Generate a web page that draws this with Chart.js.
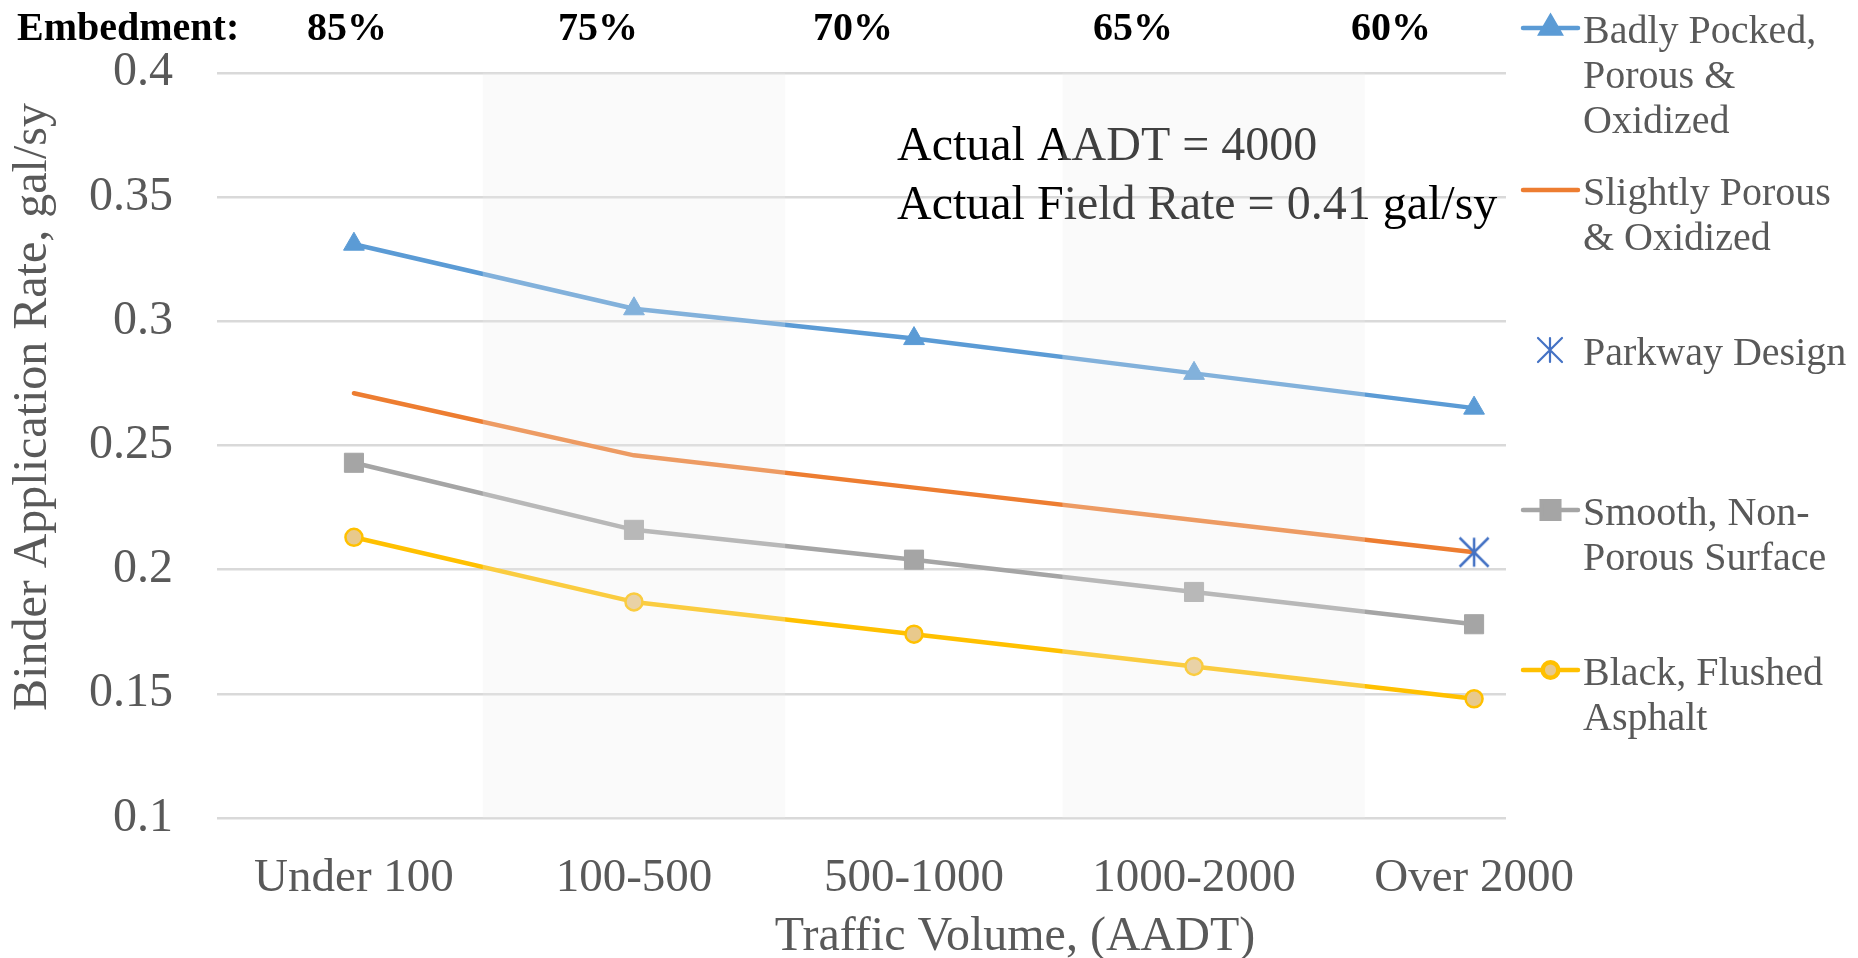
<!DOCTYPE html>
<html>
<head>
<meta charset="utf-8">
<script src="https://cdn.jsdelivr.net/npm/chart.js@4.4.1/dist/chart.umd.min.js"></script>
<style>
  html, body { margin: 0; padding: 0; background: #fff; }
</style>
</head>
<body>
<canvas id="myChart" width="1858" height="958"></canvas>
<script>
const categories = ["Under 100", "100-500", "500-1000", "1000-2000", "Over 2000"];
const embedment = ["85%", "75%", "70%", "65%", "60%"];
const badlyPocked = [0.331, 0.305, 0.293, 0.279, 0.265];
const slightlyPorous = [0.271, 0.246, 0.233, 0.220, 0.207];
const parkwayDesign = [null, null, null, null, 0.207];
const smoothNonPorous = [0.243, 0.216, 0.204, 0.191, 0.178];
const blackFlushed = [0.213, 0.187, 0.174, 0.161, 0.148];
const yTicks = [0.1, 0.15, 0.2, 0.25, 0.3, 0.35, 0.4];
const actualAADT = 4000;
const actualFieldRate = 0.41;

const FONT = '"Liberation Serif", "Times New Roman", serif';
const GREY_TEXT = "#595959";

// light columns behind the 75% and 65% embedment groups (x in category units)
const shadedBands = [[0.46, 1.54], [2.53, 3.61]];
const embedmentX = [347, 598, 853, 1133, 1391];

function toPoints(values) {
  return values.map((v, i) => ({ x: i, y: v })).filter(p => p.y !== null);
}

function drawAsterisk(ctx, cx, cy, half, color, lw) {
  ctx.save();
  ctx.strokeStyle = color;
  ctx.lineWidth = lw;
  ctx.beginPath();
  ctx.moveTo(cx - half, cy - half); ctx.lineTo(cx + half, cy + half);
  ctx.moveTo(cx + half, cy - half); ctx.lineTo(cx - half, cy + half);
  ctx.moveTo(cx, cy - half); ctx.lineTo(cx, cy + half);
  ctx.stroke();
  ctx.restore();
}

const starImg = document.createElement("canvas");
starImg.width = 32;
starImg.height = 32;
drawAsterisk(starImg.getContext("2d"), 16, 16, 14.5, "#4472C4", 2.5);

const series = [
  { label: ["Badly Pocked,", "Porous &", "Oxidized"], data: badlyPocked, color: "#5B9BD5",
    pointStyle: "triangle", radius: 12, fill: "#5B9BD5" },
  { label: ["Slightly Porous", "& Oxidized"], data: slightlyPorous, color: "#ED7D31",
    pointStyle: false, radius: 0 },
  { label: ["Parkway Design"], data: parkwayDesign, color: "#4472C4",
    pointStyle: "star", radius: 15, line: false },
  { label: ["Smooth, Non-", "Porous Surface"], data: smoothNonPorous, color: "#A5A5A5",
    pointStyle: "rect", radius: 13.5, fill: "#A5A5A5" },
  { label: ["Black, Flushed", "Asphalt"], data: blackFlushed, color: "#FFC000",
    pointStyle: "circle", radius: 8.5, fill: "#E8C98C", border: 2.5 }
];

const datasets = series.map(s => ({
  label: s.label.join(" "),
  data: toPoints(s.data),
  borderColor: s.color,
  backgroundColor: s.color,
  borderWidth: 4.5,
  borderCapStyle: "round",
  borderJoinStyle: "round",
  showLine: s.line !== false,
  tension: 0,
  pointStyle: s.pointStyle === "star" ? starImg : s.pointStyle,
  pointRadius: s.radius,
  pointBackgroundColor: s.fill || s.color,
  pointBorderColor: s.color,
  pointBorderWidth: s.border || 1,
  order: s.pointStyle === "star" ? -1 : 0
}));

const decorPlugin = {
  id: "decor",
  afterDatasetsDraw(chart) {
    const { ctx, chartArea, scales } = chart;
    ctx.save();
    ctx.font = "48px " + FONT;
    ctx.fillStyle = "#000";
    ctx.textAlign = "left";
    ctx.textBaseline = "alphabetic";
    ctx.fillText("Actual AADT = " + actualAADT, 897, 160);
    ctx.fillText("Actual Field Rate = " + actualFieldRate + " gal/sy", 897, 219);

    // the shaded columns sit over the lines, washing them out a little
    ctx.fillStyle = "rgba(237,237,237,0.27)";
    for (const [a, b] of shadedBands) {
      const x0 = scales.x.getPixelForValue(a);
      const x1 = scales.x.getPixelForValue(b);
      ctx.fillRect(x0, chartArea.top, x1 - x0, chartArea.bottom - chartArea.top);
    }
    ctx.restore();
  },
  afterDraw(chart) {
    const { ctx } = chart;
    ctx.save();

    // embedment header
    ctx.font = "bold 40px " + FONT;
    ctx.fillStyle = "#000";
    ctx.textBaseline = "alphabetic";
    ctx.textAlign = "left";
    ctx.fillText("Embedment:", 17, 40);
    ctx.textAlign = "center";
    embedment.forEach((t, i) => ctx.fillText(t, embedmentX[i], 40));

    // axis titles
    ctx.font = "48px " + FONT;
    ctx.fillStyle = GREY_TEXT;
    ctx.textAlign = "center";
    ctx.fillText("Traffic Volume, (AADT)", 1015, 950);
    ctx.save();
    ctx.translate(46, 407);
    ctx.rotate(-Math.PI / 2);
    ctx.fillText("Binder Application Rate, gal/sy", 0, 0);
    ctx.restore();

    // legend
    const firstY = [28, 190, 350, 510, 670];
    ctx.font = "40px " + FONT;
    series.forEach((s, i) => {
      const y = firstY[i];
      if (s.line !== false) {
        ctx.strokeStyle = s.color;
        ctx.lineWidth = 4.5;
        ctx.lineCap = "round";
        ctx.beginPath();
        ctx.moveTo(1523, y);
        ctx.lineTo(1578, y);
        ctx.stroke();
      }
      if (s.pointStyle === "star") {
        drawAsterisk(ctx, 1550, y, 12, s.color, 2.2);
      } else if (s.pointStyle) {
        ctx.fillStyle = s.fill || s.color;
        ctx.strokeStyle = s.color;
        Chart.helpers.drawPoint(ctx, {
          pointStyle: s.pointStyle,
          radius: s.radius * 0.92,
          borderWidth: s.border || 1,
          rotation: 0
        }, 1550.5, y);
      }
      ctx.fillStyle = GREY_TEXT;
      ctx.textAlign = "left";
      ctx.textBaseline = "middle";
      s.label.forEach((line, k) => ctx.fillText(line, 1583, y + 4 + k * 45));
    });
    ctx.restore();
  }
};

new Chart(document.getElementById("myChart"), {
  type: "line",
  data: { datasets },
  options: {
    responsive: false,
    animation: false,
    devicePixelRatio: 1,
    layout: { padding: { top: 69, right: 352, left: 0, bottom: 0 } },
    plugins: { legend: { display: false }, tooltip: { enabled: false } },
    scales: {
      x: {
        type: "linear",
        min: -0.489,
        max: 4.114,
        afterBuildTicks: scale => { scale.ticks = categories.map((c, i) => ({ value: i })); },
        afterFit: scale => { scale.height = 140; },
        grid: { display: false, drawTicks: false },
        border: { display: false },
        ticks: {
          autoSkip: false,
          maxRotation: 0,
          padding: 32,
          color: GREY_TEXT,
          font: { family: FONT, size: 47 },
          callback: v => categories[v]
        }
      },
      y: {
        min: 0.1,
        max: 0.4,
        afterBuildTicks: scale => { scale.ticks = yTicks.map(v => ({ value: v })); },
        afterFit: scale => { scale.width = 217; },
        grid: { color: "#D9D9D9", lineWidth: 2.5, drawTicks: false },
        border: { display: false },
        ticks: {
          padding: 44,
          color: GREY_TEXT,
          font: { family: FONT, size: 48 },
          callback: v => String(+v.toFixed(2))
        }
      }
    }
  },
  plugins: [decorPlugin]
});
</script>
</body>
</html>
